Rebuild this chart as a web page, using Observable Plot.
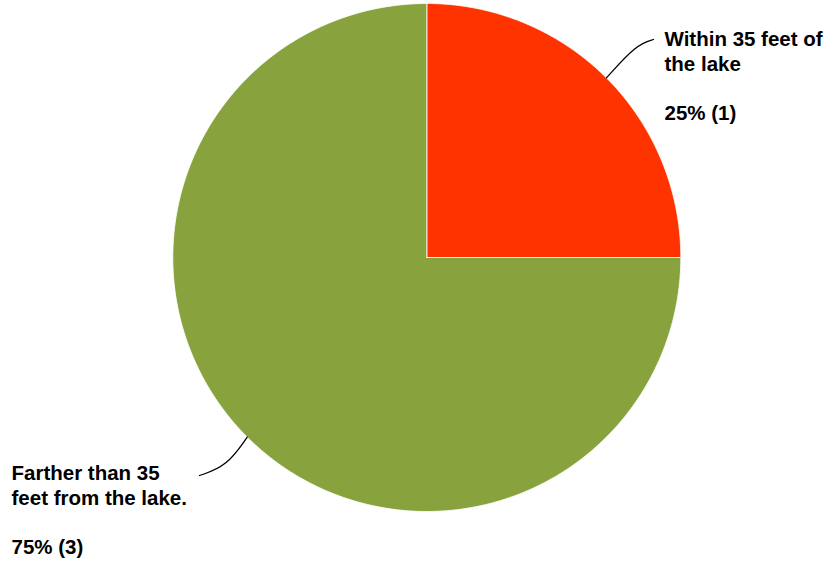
<!DOCTYPE html>
<html>
<head>
<meta charset="utf-8">
<script src="https://cdn.jsdelivr.net/npm/d3@7"></script>
<script src="https://cdn.jsdelivr.net/npm/@observablehq/plot@0.6"></script>
<style>
  html, body { margin: 0; padding: 0; background: #fff; }
  #chart svg { display: block; }
</style>
</head>
<body>
<div id="chart"></div>
<script>
// ---- data ----
const categories = ["Within 35 feet of\nthe lake", "Farther than 35\nfeet from the lake."];
const counts = [1, 3];
const colors = ["#FF3300", "#88A23D"];

// ---- layout ----
const W = 831, H = 564;
const cx = 426.3, cy = 257, R = 254;
const labelPos = [
  {x: 664, y: 28, elbow: [636, 44], end: [653, 39]},
  {x: 11, y: 462, elbow: [226, 466], end: [199, 475]}
];

const total = d3.sum(counts);
const pie = d3.pie().sort(null).value(d => d)(counts);

// slice polygons (angles from d3.pie: 0 at top, clockwise)
const slicePts = [];
pie.forEach((p, i) => {
  slicePts.push({i, x: cx, y: cy});
  const n = 240;
  for (let k = 0; k <= n; k++) {
    const a = p.startAngle + (p.endAngle - p.startAngle) * k / n;
    slicePts.push({i, x: cx + R * Math.sin(a), y: cy - R * Math.cos(a)});
  }
  slicePts.push({i, x: cx, y: cy});
});

// leader lines
const leaderPts = [];
pie.forEach((p, i) => {
  const a = (p.startAngle + p.endAngle) / 2;
  const L = labelPos[i];
  leaderPts.push({i, x: cx + R * Math.sin(a), y: cy - R * Math.cos(a)});
  leaderPts.push({i, x: L.elbow[0], y: L.elbow[1]});
  leaderPts.push({i, x: L.end[0], y: L.end[1]});
});

const labels = pie.map((p, i) => ({
  x: labelPos[i].x,
  y: labelPos[i].y,
  text: `${categories[i]}\n\n${Math.round(counts[i] / total * 100)}% (${counts[i]})`
}));

const chart = Plot.plot({
  width: W,
  height: H,
  margin: 0,
  x: {type: "identity", axis: null},
  y: {type: "identity", axis: null},
  style: {fontFamily: "'Liberation Sans', Arial, sans-serif", background: "#fff"},
  marks: [
    Plot.line(slicePts, {x: "x", y: "y", z: "i", fill: d => colors[d.i], stroke: "#fff", strokeWidth: 0.8, curve: "linear"}),
    Plot.line(leaderPts, {x: "x", y: "y", z: "i", stroke: "#000", strokeWidth: 1.3, curve: "basis"}),
    Plot.text(labels, {x: "x", y: "y", text: "text", textAnchor: "start", lineAnchor: "top",
      fontSize: 20.5, fontWeight: "bold", lineHeight: 1.2, fill: "#000"})
  ]
});
document.getElementById("chart").append(chart);
</script>
</body>
</html>
